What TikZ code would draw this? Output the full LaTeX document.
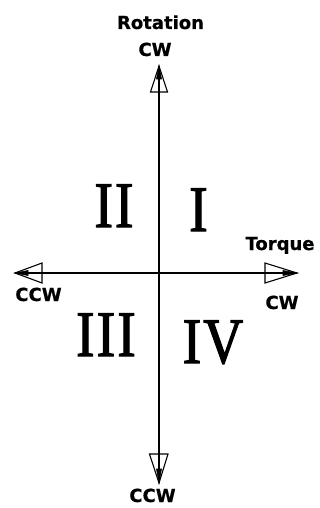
\documentclass[tikz,border=0pt]{standalone}
\usepackage{fontspec}
\newfontfamily\labfont{DejaVu Sans}[FakeBold=0.6]
\newfontfamily\romfont{Liberation Serif}[FakeBold=2, LetterSpace=4]
\begin{document}
\begin{tikzpicture}[x=1pt,y=-1pt,
  lab/.style={font=\labfont\bfseries\fontsize{18}{18}\selectfont, inner sep=0pt, anchor=base},
  rom/.style={font=\romfont\fontsize{65}{65}\selectfont, inner sep=0pt, anchor=base, xscale=0.85},
  axis/.style={line width=1.3pt, black},
  headline/.style={line width=1.1pt, black, line join=miter, fill=white},
  headtip/.style={fill=black, draw=black, line width=0.6pt}]
\useasboundingbox (0,0) rectangle (320,508);
\fill[white] (0,0) rectangle (320,508);
% axis end coordinates
\coordinate (top) at (159,66);
\coordinate (bot) at (159,483);
\coordinate (lft) at (15,273);
\coordinate (rgt) at (297,273);
% arrowheads (open) drawn first, axes through them
\draw[headline] (top) -- (150.5,92) -- (167.5,92) -- cycle;
\draw[headline] (bot) -- (149.5,454) -- (168,454) -- cycle;
\draw[headline] (lft) -- (42,263) -- (42,283) -- cycle;
\draw[headline] (rgt) -- (265,263) -- (265,283) -- cycle;
\draw[axis] (top) -- (bot);
\draw[axis] (lft) -- (rgt);
\draw[headtip] (top) -- (156.5,79) -- (161.5,79) -- cycle;
\draw[headtip] (bot) -- (156.5,469) -- (161.5,469) -- cycle;
\draw[headtip] (lft) -- (28,270.5) -- (28,275.5) -- cycle;
\draw[headtip] (rgt) -- (283,270.5) -- (283,275.5) -- cycle;
% labels
\node[lab] (rot) at (160.5,29) {Rotation};
\node[lab] (cwt) at (155,56) {CW};
\node[lab] (tor) at (280,250) {Torque};
\node[lab] (ccwl) at (38.5,301) {CCW};
\node[lab] (cwr) at (282,309) {CW};
\node[lab] (ccwb) at (152.5,502) {CCW};
% quadrants
\node[rom] (q2) at (114,227) {II};
\node[rom] (q1) at (198.5,231) {I};
\node[rom] (q3) at (106,356) {III};
\node[rom] (q4) at (213,363) {IV};
\end{tikzpicture}
\end{document}
